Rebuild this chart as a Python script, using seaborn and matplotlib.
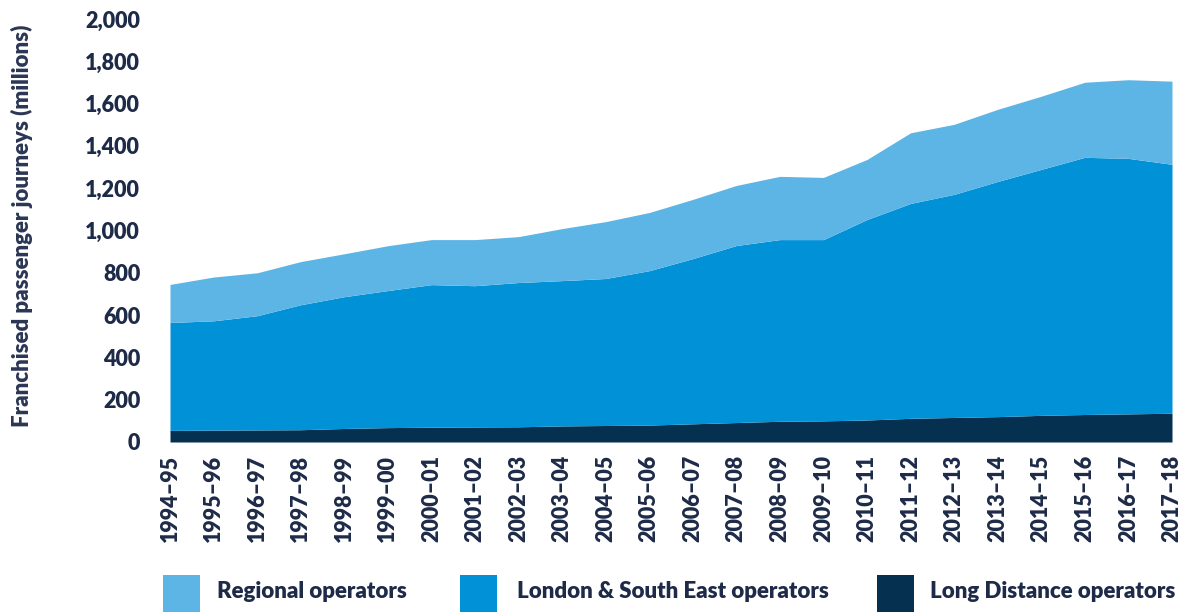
import numpy as np
import pandas as pd
import seaborn as sns
import matplotlib
matplotlib.use("Agg")
import matplotlib.pyplot as plt
from matplotlib.patches import Rectangle
from matplotlib.ticker import FuncFormatter

# Financial years
years = ["1994–95", "1995–96", "1996–97", "1997–98", "1998–99", "1999–00",
         "2000–01", "2001–02", "2002–03", "2003–04", "2004–05", "2005–06",
         "2006–07", "2007–08", "2008–09", "2009–10", "2010–11", "2011–12",
         "2012–13", "2013–14", "2014–15", "2015–16", "2016–17", "2017–18"]

# Franchised passenger journeys (millions) by operator group
long_distance = [55, 56, 57, 58, 64, 68, 70, 71, 72, 76, 78, 80,
                 86, 92, 98, 100, 104, 112, 116, 120, 126, 130, 133, 136]
london_south_east = [510, 517, 540, 591, 623, 648, 674, 668, 682, 687, 695, 730,
                     781, 837, 859, 857, 948, 1016, 1055, 1112, 1163, 1216, 1208, 1177]
regional = [180, 207, 203, 204, 203, 212, 213, 218, 217, 246, 269, 275,
            280, 284, 299, 294, 284, 334, 331, 341, 346, 355, 372, 393]

series_names = ["Regional operators", "London & South East operators", "Long Distance operators"]
colors = {"Regional operators": "#5DB5E6",
          "London & South East operators": "#0091D7",
          "Long Distance operators": "#06304F"}
text_color = "#1D2A48"

df = pd.DataFrame({
    "year": years,
    "Long Distance operators": long_distance,
    "London & South East operators": london_south_east,
    "Regional operators": regional,
})

sns.set_theme(style="white")
plt.rcParams["font.family"] = ["Lato", "DejaVu Sans"]

W, H = 1186, 612
fig = plt.figure(figsize=(W / 100, H / 100), dpi=100)
ax = fig.add_axes([170 / W, 170 / H, (1172 - 170) / W, (442 - 19) / H])

x = np.arange(len(df))
stack_order = ["Long Distance operators", "London & South East operators", "Regional operators"]
ax.stackplot(x, *[df[c] for c in stack_order],
             colors=[colors[c] for c in stack_order], linewidth=0)

ax.set_xlim(x[0], x[-1])
ax.set_ylim(0, 2000)
ax.set_yticks(np.arange(0, 2001, 200))
ax.yaxis.set_major_formatter(FuncFormatter(lambda v, _: f"{int(v):,}"))
ax.set_xticks(x)
ax.set_xticklabels(df["year"], rotation=90)

ax.tick_params(axis="y", length=0, pad=21.5, labelsize=15.5, labelcolor=text_color)
ax.tick_params(axis="x", length=0, pad=9.5, labelsize=15.5, labelcolor=text_color)
for lab in ax.get_xticklabels() + ax.get_yticklabels():
    lab.set_fontweight("heavy")

for s in ax.spines.values():
    s.set_visible(False)
ax.grid(False)

fig.text(22 / W, (H - 226) / H, "Franchised passenger journeys (millions)",
         rotation=90, ha="center", va="center", fontsize=16, fontweight="heavy",
         color="#2A3654")

# Legend row along the bottom: colour key block followed by its label
key_x = [163, 460, 877]
text_x = [217, 517, 930]
for name, kx, tx in zip(series_names, key_x, text_x):
    fig.patches.append(Rectangle((kx / W, 0), 37 / W, 37 / H, transform=fig.transFigure,
                                 facecolor=colors[name], edgecolor="none"))
    fig.text(tx / W, (H - 592) / H, name, ha="left", va="center", fontsize=16,
             fontweight="heavy", color=text_color)

fig.savefig("out.png", dpi=100)
